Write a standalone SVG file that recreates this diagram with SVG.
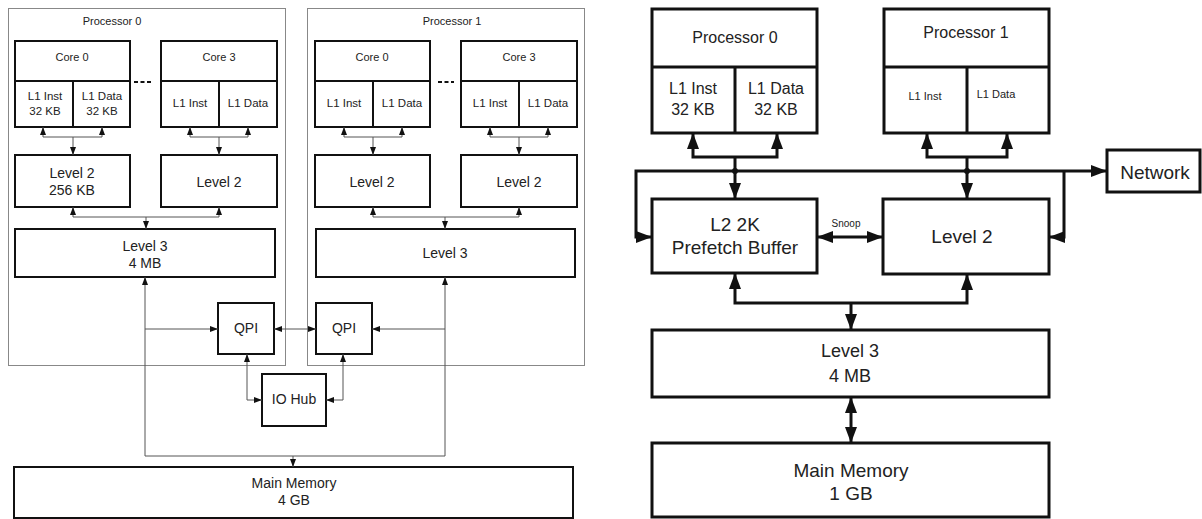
<svg xmlns="http://www.w3.org/2000/svg" width="1202" height="519" viewBox="0 0 1202 519">
<defs>
<style>
text{font-family:"Liberation Sans",Arial,sans-serif;fill:#222;text-anchor:middle}
.outer{fill:none;stroke:#888;stroke-width:1}
.lb{fill:#fff;stroke:#111;stroke-width:2}
.rb{fill:#fff;stroke:#111;stroke-width:3}
.lc{fill:none;stroke:#555;stroke-width:1}
.rc{fill:none;stroke:#111;stroke-width:3}
.ls{fill:none;stroke:#111;stroke-width:2}
.t11{font-size:11px}
.t12{font-size:11.5px}
.t14{font-size:14px}
.t16{font-size:16px}
.t18{font-size:18px}
.t19{font-size:19px}
.t10{font-size:10px}
</style>
<marker id="sa" markerUnits="userSpaceOnUse" markerWidth="8" markerHeight="6" refX="8" refY="3" orient="auto-start-reverse"><path d="M0,0 L8,3 L0,6 z" fill="#111"/></marker>
<marker id="ba" markerUnits="userSpaceOnUse" markerWidth="16" markerHeight="12" refX="16" refY="6" orient="auto-start-reverse"><path d="M0,0 L16,6 L0,12 z" fill="#111"/></marker>
</defs>

<!-- LEFT DIAGRAM -->
<g id="proc0-left">
<rect class="outer" x="8.5" y="8.5" width="277" height="357"/>
<text class="t11" x="112" y="25">Processor 0</text>
</g>
<g id="proc1-left">
<rect class="outer" x="307.5" y="8.5" width="277" height="357"/>
<text class="t11" x="452" y="25">Processor 1</text>
</g>

<g id="p0-core0">
<rect class="lb" x="15" y="41" width="115" height="86"/>
<line class="ls" x1="15" y1="81" x2="130" y2="81"/>
<line class="ls" x1="73" y1="81" x2="73" y2="127"/>
<text class="t11" x="72" y="61">Core 0</text>
<text class="t12" x="45" y="100">L1 Inst</text>
<text class="t12" x="45" y="115">32 KB</text>
<text class="t12" x="102" y="100">L1 Data</text>
<text class="t12" x="102" y="115">32 KB</text>
</g>
<g id="p0-dots"><line class="ls" x1="134" y1="82" x2="152" y2="82" stroke-dasharray="4,2.5"/></g>
<g id="p0-core3">
<rect class="lb" x="161" y="41" width="116" height="86"/>
<line class="ls" x1="161" y1="81" x2="277" y2="81"/>
<line class="ls" x1="219" y1="81" x2="219" y2="127"/>
<text class="t11" x="219" y="61">Core 3</text>
<text class="t12" x="190" y="107">L1 Inst</text>
<text class="t12" x="248" y="107">L1 Data</text>
</g>
<g id="p0-l2a">
<rect class="lb" x="15" y="155" width="115" height="52"/>
<text class="t14" x="72" y="178">Level 2</text>
<text class="t14" x="72" y="195">256 KB</text>
</g>
<g id="p0-l2b">
<rect class="lb" x="161" y="155" width="116" height="52"/>
<text class="t14" x="219" y="187">Level 2</text>
</g>
<g id="p0-l3">
<rect class="lb" x="15" y="229" width="260" height="48"/>
<text class="t14" x="145" y="251">Level 3</text>
<text class="t14" x="145" y="268">4 MB</text>
</g>

<g id="p1-core0">
<rect class="lb" x="315" y="41" width="115" height="86"/>
<line class="ls" x1="315" y1="81" x2="430" y2="81"/>
<line class="ls" x1="373" y1="81" x2="373" y2="127"/>
<text class="t11" x="372" y="61">Core 0</text>
<text class="t12" x="344" y="107">L1 Inst</text>
<text class="t12" x="402" y="107">L1 Data</text>
</g>
<g id="p1-dots"><line class="ls" x1="438" y1="82" x2="454" y2="82" stroke-dasharray="4,2.5"/></g>
<g id="p1-core3">
<rect class="lb" x="461" y="41" width="116" height="86"/>
<line class="ls" x1="461" y1="81" x2="577" y2="81"/>
<line class="ls" x1="519" y1="81" x2="519" y2="127"/>
<text class="t11" x="519" y="61">Core 3</text>
<text class="t12" x="490" y="107">L1 Inst</text>
<text class="t12" x="548" y="107">L1 Data</text>
</g>
<g id="p1-l2a">
<rect class="lb" x="315" y="155" width="115" height="52"/>
<text class="t14" x="372" y="187">Level 2</text>
</g>
<g id="p1-l2b">
<rect class="lb" x="461" y="155" width="116" height="52"/>
<text class="t14" x="519" y="187">Level 2</text>
</g>
<g id="p1-l3">
<rect class="lb" x="316" y="229" width="259" height="48"/>
<text class="t14" x="445" y="258">Level 3</text>
</g>

<g id="qpi0">
<rect class="lb" x="218" y="303" width="56" height="51"/>
<text class="t14" x="246" y="333">QPI</text>
</g>
<g id="qpi1">
<rect class="lb" x="316" y="303" width="56" height="51"/>
<text class="t14" x="344" y="333">QPI</text>
</g>
<g id="iohub">
<rect class="lb" x="262" y="374" width="64" height="52"/>
<text class="t14" x="294" y="404">IO Hub</text>
</g>
<g id="mainmem-left">
<rect class="lb" x="14" y="467" width="559" height="51"/>
<text class="t14" x="294" y="488">Main Memory</text>
<text class="t14" x="294" y="505">4 GB</text>
</g>

<g id="connectors-left">
<path class="lc" d="M43,127 V137 H102 V127" marker-start="url(#sa)" marker-end="url(#sa)"/>
<path class="lc" d="M73,137 V155" marker-end="url(#sa)"/>
<path class="lc" d="M190,127 V137 H248 V127" marker-start="url(#sa)" marker-end="url(#sa)"/>
<path class="lc" d="M219,137 V155" marker-end="url(#sa)"/>
<path class="lc" d="M73,207 V217 H219 V207" marker-start="url(#sa)" marker-end="url(#sa)"/>
<path class="lc" d="M146,217 V229" marker-end="url(#sa)"/>
<path class="lc" d="M344,127 V137 H402 V127" marker-start="url(#sa)" marker-end="url(#sa)"/>
<path class="lc" d="M373,137 V155" marker-end="url(#sa)"/>
<path class="lc" d="M490,127 V137 H548 V127" marker-start="url(#sa)" marker-end="url(#sa)"/>
<path class="lc" d="M519,137 V155" marker-end="url(#sa)"/>
<path class="lc" d="M373,207 V217 H519 V207" marker-start="url(#sa)" marker-end="url(#sa)"/>
<path class="lc" d="M445,217 V229" marker-end="url(#sa)"/>
<path class="lc" d="M145,277 V456 H445 V277" marker-start="url(#sa)" marker-end="url(#sa)"/>
<path class="lc" d="M293,456 V467" marker-end="url(#sa)"/>
<path class="lc" d="M145,329 H218" marker-end="url(#sa)"/>
<path class="lc" d="M445,329 H372" marker-end="url(#sa)"/>
<path class="lc" d="M274,329 H316" marker-start="url(#sa)" marker-end="url(#sa)"/>
<path class="lc" d="M247,354 V400 H262" marker-start="url(#sa)" marker-end="url(#sa)"/>
<path class="lc" d="M343,354 V400 H326" marker-start="url(#sa)" marker-end="url(#sa)"/>
</g>

<!-- RIGHT DIAGRAM -->
<g id="r-proc0">
<rect class="rb" x="652" y="9" width="165" height="124"/>
<line class="rc" x1="652" y1="67" x2="817" y2="67"/>
<line class="rc" x1="735" y1="67" x2="735" y2="133"/>
<text class="t16" x="735" y="43">Processor 0</text>
<text class="t16" x="693" y="94">L1 Inst</text>
<text class="t16" x="693" y="115">32 KB</text>
<text class="t16" x="776" y="94">L1 Data</text>
<text class="t16" x="776" y="115">32 KB</text>
</g>
<g id="r-proc1">
<rect class="rb" x="884" y="9" width="165" height="124"/>
<line class="rc" x1="884" y1="67" x2="1049" y2="67"/>
<line class="rc" x1="967" y1="67" x2="967" y2="133"/>
<text class="t16" x="966" y="38">Processor 1</text>
<text class="t11" x="925" y="100">L1 Inst</text>
<text class="t11" x="996" y="98">L1 Data</text>
</g>
<g id="r-network">
<rect class="rb" x="1107" y="150" width="93" height="42"/>
<text class="t19" x="1155" y="179">Network</text>
</g>
<g id="r-l2prefetch">
<rect class="rb" x="652" y="199" width="165" height="74"/>
<text class="t19" x="735" y="231">L2 2K</text>
<text class="t19" x="735" y="254">Prefetch Buffer</text>
</g>
<g id="r-l2">
<rect class="rb" x="883" y="199" width="166" height="75"/>
<text class="t19" x="962" y="243">Level 2</text>
</g>
<g id="r-l3">
<rect class="rb" x="652" y="330" width="397" height="67"/>
<text class="t18" x="850" y="357">Level 3</text>
<text class="t18" x="850" y="382">4 MB</text>
</g>
<g id="r-mainmem">
<rect class="rb" x="652" y="443" width="397" height="74"/>
<text class="t19" x="851" y="477">Main Memory</text>
<text class="t19" x="851" y="500">1 GB</text>
</g>

<g id="connectors-right">
<path class="rc" d="M693,133 V157 H777 V133" marker-start="url(#ba)" marker-end="url(#ba)"/>
<path class="rc" d="M735,157 V199" marker-end="url(#ba)"/>
<path class="rc" d="M927,133 V157 H1007 V133" marker-start="url(#ba)" marker-end="url(#ba)"/>
<path class="rc" d="M967,157 V199" marker-end="url(#ba)"/>
<path class="rc" d="M652,237 H636 V171 H1107" marker-start="url(#ba)" marker-end="url(#ba)"/>
<path class="rc" d="M1064,171 V237 H1049" marker-end="url(#ba)"/>
<circle cx="735" cy="171" r="3" fill="#111"/>
<circle cx="967" cy="171" r="3" fill="#111"/>
<path class="rc" d="M817,237 H883" marker-start="url(#ba)" marker-end="url(#ba)"/>
<text class="t10" x="846" y="227">Snoop</text>
<path class="rc" d="M735,273 V303 H967 V274" marker-start="url(#ba)" marker-end="url(#ba)"/>
<path class="rc" d="M851,303 V330" marker-end="url(#ba)"/>
<path class="rc" d="M851,397 V443" marker-start="url(#ba)" marker-end="url(#ba)"/>
</g>
</svg>
